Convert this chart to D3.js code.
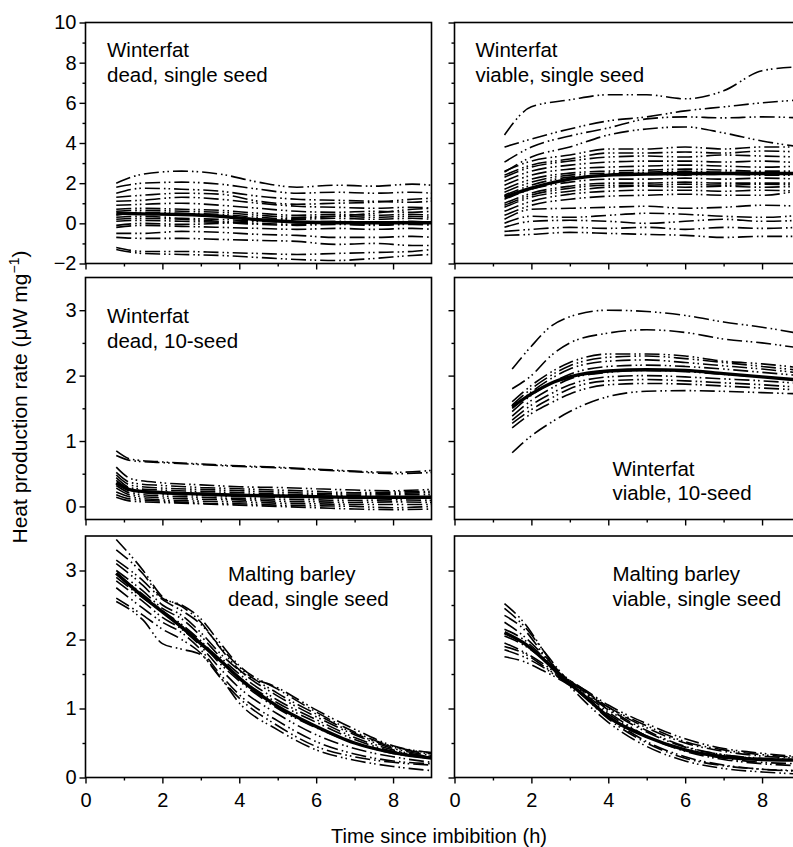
<!DOCTYPE html>
<html>
<head>
<meta charset="utf-8">
<script src="https://cdn.jsdelivr.net/npm/d3@7"></script>
<style>
  body { margin: 0; background: #fff; }
  svg { display: block; font-family: "Liberation Sans", Arial, sans-serif; }
</style>
</head>
<body>
<div id="chart"></div>
<script>
// Winterfat, dead, single seed
const deadSingleTimes = [0.8, 1.5, 2.5, 3.5, 4.5, 5.5, 6.5, 7.5, 8.5, 9.0];
const deadSingleSeeds = [
  [2.0, 2.45, 2.6, 2.45, 2.05, 1.8, 1.9, 1.85, 1.95, 1.9],
  [1.8, 2.0, 2.05, 1.95, 1.7, 1.5, 1.55, 1.5, 1.55, 1.5],
  [1.5, 1.75, 1.7, 1.6, 1.35, 1.2, 1.15, 1.1, 1.05, 1.1],
  [1.3, 1.4, 1.5, 1.45, 1.1, 0.95, 1.0, 1.05, 1.2, 1.25],
  [1.1, 1.15, 1.3, 1.2, 1.0, 0.85, 0.8, 0.75, 0.8, 0.75],
  [0.9, 0.95, 1.0, 0.9, 0.75, 0.6, 0.55, 0.6, 0.55, 0.6],
  [0.7, 0.75, 0.7, 0.65, 0.5, 0.4, 0.45, 0.4, 0.45, 0.4],
  [0.6, 0.65, 0.6, 0.55, 0.4, 0.3, 0.35, 0.3, 0.35, 0.3],
  [0.4, 0.55, 0.5, 0.45, 0.3, 0.2, 0.25, 0.2, 0.25, 0.2],
  [0.3, 0.35, 0.25, 0.2, 0.1, 0.05, 0.1, 0.05, 0.1, 0.05],
  [0.2, 0.25, 0.2, 0.1, 0.0, -0.05, 0.0, -0.05, 0.0, -0.05],
  [0.1, 0.15, 0.1, 0.05, -0.05, -0.1, -0.05, -0.1, -0.05, -0.1],
  [-0.1, 0.0, -0.05, 0.0, 0.15, 0.25, 0.35, 0.5, 0.7, 0.75],
  [-0.2, -0.1, -0.15, -0.2, -0.25, -0.3, -0.25, -0.3, -0.25, -0.3],
  [-0.5, -0.5, -0.4, -0.45, -0.55, -0.6, -0.7, -0.7, -0.65, -0.7],
  [-0.7, -0.75, -0.75, -0.8, -0.85, -0.9, -1.05, -1.0, -1.1, -1.1],
  [-1.2, -1.4, -1.4, -1.45, -1.5, -1.55, -1.5, -1.45, -1.4, -1.3],
  [-1.3, -1.5, -1.55, -1.6, -1.7, -1.8, -1.85, -1.75, -1.6, -1.55],
];
const deadSingleMean = [0.5, 0.47, 0.44, 0.35, 0.18, 0.07, 0.03, 0.03, 0.03, 0.03];

// Winterfat, viable, single seed
const viableSingleTimes = [1.3, 2.0, 3.0, 4.0, 5.0, 6.0, 7.0, 8.0, 9.0];
const viableSingleSeeds = [
  [4.4, 5.8, 6.15, 6.4, 6.4, 6.2, 6.6, 7.6, 7.8],
  [3.8, 4.2, 4.7, 5.1, 5.3, 5.6, 5.8, 6.0, 6.15],
  [3.05, 3.8, 4.35, 4.75, 5.2, 5.3, 5.25, 5.3, 5.25],
  [2.55, 3.3, 3.8, 4.4, 4.7, 4.8, 4.5, 4.1, 3.8],
  [2.6, 3.1, 3.4, 3.7, 3.7, 3.8, 3.7, 3.8, 3.8],
  [2.4, 2.9, 3.2, 3.5, 3.5, 3.55, 3.5, 3.6, 3.55],
  [2.3, 2.8, 3.1, 3.3, 3.35, 3.3, 3.4, 3.35, 3.3],
  [2.1, 2.6, 2.9, 3.05, 3.1, 3.1, 3.05, 3.1, 3.0],
  [1.9, 2.4, 2.7, 2.8, 2.85, 2.9, 2.85, 2.8, 2.85],
  [1.7, 2.2, 2.5, 2.6, 2.65, 2.7, 2.65, 2.6, 2.6],
  [1.55, 2.05, 2.4, 2.5, 2.55, 2.6, 2.55, 2.55, 2.5],
  [1.4, 1.9, 2.3, 2.4, 2.45, 2.4, 2.45, 2.4, 2.4],
  [1.2, 1.7, 2.05, 2.2, 2.2, 2.25, 2.2, 2.25, 2.2],
  [1.0, 1.5, 1.85, 2.0, 2.0, 2.05, 2.0, 2.0, 2.0],
  [0.9, 1.4, 1.75, 1.9, 1.9, 1.95, 1.9, 1.95, 1.9],
  [0.8, 1.3, 1.6, 1.8, 1.85, 1.8, 1.85, 1.8, 1.85],
  [0.6, 1.1, 1.45, 1.6, 1.65, 1.65, 1.6, 1.65, 1.6],
  [0.4, 0.9, 1.2, 1.35, 1.4, 1.45, 1.4, 1.4, 1.65],
  [0.2, 0.7, 0.75, 0.8, 0.85, 0.75, 0.8, 0.9, 0.85],
  [0.0, 0.35, 0.3, 0.4, 0.5, 0.45, 0.35, 0.3, 0.4],
  [-0.2, 0.1, 0.15, 0.1, 0.0, 0.1, 0.2, 0.1, 0.15],
  [-0.4, -0.3, -0.2, -0.25, -0.2, -0.3, -0.2, -0.25, -0.2],
  [-0.6, -0.55, -0.45, -0.5, -0.55, -0.6, -0.7, -0.65, -0.65],
];
const viableSingleMean = [1.3, 1.75, 2.2, 2.4, 2.45, 2.48, 2.48, 2.48, 2.48];

// Winterfat, dead, 10-seed
const deadTenTimes = [0.8, 1.2, 2, 3, 4, 5, 6, 7, 8, 9];
const deadTenSeeds = [
  [0.85, 0.72, 0.68, 0.65, 0.62, 0.6, 0.57, 0.54, 0.52, 0.55],
  [0.78, 0.7, 0.67, 0.64, 0.61, 0.59, 0.56, 0.53, 0.5, 0.52],
  [0.6, 0.42, 0.36, 0.33, 0.3, 0.29, 0.27, 0.25, 0.24, 0.26],
  [0.52, 0.36, 0.32, 0.29, 0.27, 0.25, 0.23, 0.21, 0.22, 0.23],
  [0.48, 0.32, 0.28, 0.26, 0.24, 0.22, 0.2, 0.19, 0.2, 0.21],
  [0.44, 0.28, 0.25, 0.23, 0.21, 0.19, 0.18, 0.17, 0.18, 0.18],
  [0.4, 0.26, 0.22, 0.2, 0.18, 0.17, 0.16, 0.15, 0.14, 0.15],
  [0.35, 0.23, 0.19, 0.17, 0.15, 0.14, 0.13, 0.12, 0.12, 0.12],
  [0.32, 0.2, 0.16, 0.14, 0.12, 0.11, 0.1, 0.09, 0.1, 0.09],
  [0.28, 0.17, 0.13, 0.11, 0.1, 0.08, 0.07, 0.06, 0.07, 0.06],
  [0.22, 0.14, 0.1, 0.08, 0.07, 0.05, 0.04, 0.03, 0.03, 0.03],
  [0.18, 0.11, 0.08, 0.05, 0.04, 0.02, 0.01, 0.0, -0.02, 0.0],
  [0.14, 0.08, 0.06, 0.04, 0.02, 0.0, -0.02, -0.04, -0.05, -0.04],
];
const deadTenMean = [0.36, 0.25, 0.21, 0.19, 0.17, 0.16, 0.15, 0.14, 0.14, 0.14];

// Winterfat, viable, 10-seed
const viableTenTimes = [1.5, 2.0, 2.5, 3.0, 4.0, 5.0, 6.0, 7.0, 8.0, 9.0];
const viableTenSeeds = [
  [2.1, 2.45, 2.75, 2.9, 3.0, 2.98, 2.92, 2.82, 2.74, 2.64],
  [1.8, 2.0, 2.3, 2.5, 2.65, 2.7, 2.66, 2.56, 2.5, 2.42],
  [1.6, 1.85, 2.05, 2.2, 2.33, 2.33, 2.3, 2.22, 2.18, 2.12],
  [1.55, 1.8, 2.0, 2.15, 2.28, 2.3, 2.26, 2.2, 2.14, 2.08],
  [1.5, 1.75, 1.95, 2.1, 2.22, 2.24, 2.2, 2.15, 2.1, 2.04],
  [1.45, 1.7, 1.88, 2.02, 2.14, 2.16, 2.14, 2.1, 2.05, 2.0],
  [1.38, 1.62, 1.8, 1.95, 2.05, 2.08, 2.06, 2.02, 1.98, 1.94],
  [1.32, 1.55, 1.72, 1.86, 1.98, 2.0, 1.98, 1.95, 1.92, 1.88],
  [1.27, 1.48, 1.65, 1.8, 1.92, 1.94, 1.92, 1.89, 1.86, 1.82],
  [1.2, 1.42, 1.58, 1.72, 1.86, 1.88, 1.87, 1.84, 1.81, 1.78],
  [0.82, 1.08, 1.28, 1.45, 1.68, 1.76, 1.77, 1.76, 1.74, 1.72],
];
const viableTenMean = [1.52, 1.72, 1.88, 1.98, 2.07, 2.09, 2.08, 2.03, 1.98, 1.93];

// Malting barley, dead, single seed
const barleyDeadTimes = [0.8, 1.5, 2, 2.5, 3, 3.5, 4, 5, 6, 7, 8, 9];
const barleyDeadSeeds = [
  [3.45, 3.0, 2.62, 2.48, 2.25, 1.88, 1.56, 1.3, 0.98, 0.7, 0.46, 0.36],
  [3.3, 2.95, 2.6, 2.5, 2.3, 1.95, 1.62, 1.28, 0.95, 0.66, 0.45, 0.35],
  [3.15, 2.85, 2.58, 2.42, 2.22, 1.9, 1.6, 1.22, 0.92, 0.64, 0.44, 0.34],
  [3.1, 2.78, 2.5, 2.35, 2.1, 1.8, 1.55, 1.18, 0.88, 0.62, 0.42, 0.32],
  [3.0, 2.7, 2.45, 2.3, 2.05, 1.75, 1.5, 1.12, 0.84, 0.58, 0.4, 0.3],
  [2.95, 2.65, 2.42, 2.22, 1.98, 1.7, 1.45, 1.08, 0.8, 0.55, 0.38, 0.3],
  [2.9, 2.6, 2.4, 2.2, 1.95, 1.65, 1.4, 1.0, 0.72, 0.5, 0.35, 0.28],
  [2.85, 2.55, 2.32, 2.15, 1.9, 1.58, 1.3, 0.92, 0.62, 0.42, 0.3, 0.22],
  [2.75, 2.45, 2.25, 2.1, 1.85, 1.5, 1.2, 0.82, 0.52, 0.34, 0.24, 0.2],
  [2.6, 2.35, 2.15, 2.0, 1.8, 1.45, 1.15, 0.75, 0.45, 0.3, 0.22, 0.18],
  [2.55, 2.28, 1.94, 1.86, 1.78, 1.46, 1.08, 0.69, 0.4, 0.25, 0.16, 0.1],
];
const barleyDeadMean = [2.96, 2.62, 2.4, 2.18, 1.94, 1.7, 1.44, 1.03, 0.74, 0.5, 0.36, 0.28];

// Malting barley, viable, single seed
const barleyViableTimes = [1.3, 1.8, 2.3, 2.8, 3.3, 4, 5, 6, 7, 8, 9];
const barleyViableSeeds = [
  [2.52, 2.25, 1.85, 1.45, 1.15, 0.8, 0.45, 0.24, 0.13, 0.08, 0.05],
  [2.45, 2.2, 1.85, 1.5, 1.22, 0.88, 0.52, 0.3, 0.18, 0.12, 0.09],
  [2.35, 2.15, 1.8, 1.48, 1.25, 0.95, 0.6, 0.38, 0.26, 0.2, 0.17],
  [2.25, 2.05, 1.78, 1.5, 1.28, 1.0, 0.68, 0.45, 0.33, 0.27, 0.25],
  [2.15, 2.0, 1.75, 1.48, 1.27, 0.98, 0.66, 0.44, 0.33, 0.28, 0.26],
  [2.05, 1.92, 1.72, 1.48, 1.3, 1.02, 0.72, 0.5, 0.38, 0.31, 0.28],
  [1.95, 1.82, 1.65, 1.45, 1.3, 1.05, 0.78, 0.56, 0.42, 0.35, 0.3],
  [1.9, 1.8, 1.62, 1.42, 1.2, 0.85, 0.5, 0.28, 0.17, 0.12, 0.1],
  [1.85, 1.75, 1.6, 1.42, 1.28, 1.02, 0.75, 0.52, 0.4, 0.33, 0.29],
  [1.75, 1.68, 1.55, 1.4, 1.22, 0.92, 0.6, 0.4, 0.28, 0.22, 0.2],
];
const barleyViableMean = [2.1, 1.95, 1.72, 1.45, 1.22, 0.88, 0.59, 0.4, 0.3, 0.26, 0.25];

const xTicksMajor = [0, 2, 4, 6, 8];
const xTicksMinor = [1, 3, 5, 7];

const width = 793;
const height = 847;

const svg = d3
  .select("#chart")
  .append("svg")
  .attr("width", width)
  .attr("height", height);

// column / row frames, in pixels
const cols = [
  { x0: 85.5, x1: 431.5 },
  { x0: 454.5, x1: 800.5 },
];
const rows = [
  { y0: 22.5, y1: 263.5, domain: [-2, 10], major: [-2, 0, 2, 4, 6, 8, 10], minor: [-1, 1, 3, 5, 7, 9] },
  { y0: 277.5, y1: 519.5, domain: [-0.2, 3.5], major: [0, 1, 2, 3], minor: [0.5, 1.5, 2.5] },
  { y0: 536, y1: 777.5, domain: [0, 3.5], major: [0, 1, 2, 3], minor: [0.5, 1.5, 2.5] },
];

const panels = [
  { row: 0, col: 0, times: deadSingleTimes, seeds: deadSingleSeeds, mean: deadSingleMean,
    label: ["Winterfat", "dead, single seed"], lx: 107, ly: 57 },
  { row: 0, col: 1, times: viableSingleTimes, seeds: viableSingleSeeds, mean: viableSingleMean,
    label: ["Winterfat", "viable, single seed"], lx: 475.5, ly: 57 },
  { row: 1, col: 0, times: deadTenTimes, seeds: deadTenSeeds, mean: deadTenMean,
    label: ["Winterfat", "dead, 10-seed"], lx: 107, ly: 323 },
  { row: 1, col: 1, times: viableTenTimes, seeds: viableTenSeeds, mean: viableTenMean,
    label: ["Winterfat", "viable, 10-seed"], lx: 612.5, ly: 475.5 },
  { row: 2, col: 0, times: barleyDeadTimes, seeds: barleyDeadSeeds, mean: barleyDeadMean,
    label: ["Malting barley", "dead, single seed"], lx: 228, ly: 581 },
  { row: 2, col: 1, times: barleyViableTimes, seeds: barleyViableSeeds, mean: barleyViableMean,
    label: ["Malting barley", "viable, single seed"], lx: 612.5, ly: 581 },
];

const fmt = (d) => (d < 0 ? "\u2212" + Math.abs(d) : String(d));

panels.forEach((p, i) => {
  const c = cols[p.col];
  const r = rows[p.row];
  const x = d3.scaleLinear().domain([0, 9]).range([c.x0, c.x1]);
  const y = d3.scaleLinear().domain(r.domain).range([r.y1, r.y0]);

  const clipId = "clip" + i;
  svg
    .append("clipPath")
    .attr("id", clipId)
    .append("rect")
    .attr("x", c.x0)
    .attr("y", r.y0)
    .attr("width", c.x1 - c.x0)
    .attr("height", r.y1 - r.y0);

  const line = d3
    .line()
    .x((d) => x(d[0]))
    .y((d) => y(d[1]))
    .curve(d3.curveMonotoneX);

  const g = svg.append("g").attr("clip-path", `url(#${clipId})`);

  // individual seeds: dash-dot-dot lines
  g.selectAll(".seed")
    .data(p.seeds)
    .enter()
    .append("path")
    .attr("class", "seed")
    .attr("d", (s) => line(s.map((v, k) => [p.times[k], v])))
    .attr("fill", "none")
    .attr("stroke", "#000")
    .attr("stroke-width", 1.6)
    .attr("stroke-dasharray", "15,4,1.6,3,1.6,4");

  // mean curve
  g.append("path")
    .attr("d", line(p.mean.map((v, k) => [p.times[k], v])))
    .attr("fill", "none")
    .attr("stroke", "#000")
    .attr("stroke-width", 3.4);

  // frame
  svg
    .append("rect")
    .attr("x", c.x0)
    .attr("y", r.y0)
    .attr("width", c.x1 - c.x0)
    .attr("height", r.y1 - r.y0)
    .attr("fill", "none")
    .attr("stroke", "#000")
    .attr("stroke-width", 1.6);

  // left axis
  const yAxis = svg
    .append("g")
    .attr("transform", `translate(${c.x0},0)`)
    .call(
      d3.axisLeft(y)
        .tickValues(r.major)
        .tickSize(6)
        .tickPadding(3)
        .tickFormat(p.col === 0 ? fmt : "")
    );
  yAxis.select(".domain").remove();
  yAxis.selectAll("line").attr("stroke-width", 1.4);
  yAxis.selectAll("text").style("font-size", "20px").attr("fill", "#000");
  svg
    .append("g")
    .attr("transform", `translate(${c.x0},0)`)
    .call(d3.axisLeft(y).tickValues(r.minor).tickSize(3).tickFormat(""))
    .call((a) => a.select(".domain").remove())
    .selectAll("line")
    .attr("stroke-width", 1.4);

  // bottom axis
  const xAxis = svg
    .append("g")
    .attr("transform", `translate(0,${r.y1})`)
    .call(
      d3.axisBottom(x)
        .tickValues(xTicksMajor)
        .tickSize(6)
        .tickPadding(9)
        .tickFormat(p.row === 2 ? fmt : "")
    );
  xAxis.select(".domain").remove();
  xAxis.selectAll("line").attr("stroke-width", 1.4);
  xAxis.selectAll("text").style("font-size", "20px").attr("fill", "#000");
  svg
    .append("g")
    .attr("transform", `translate(0,${r.y1})`)
    .call(d3.axisBottom(x).tickValues(xTicksMinor).tickSize(3).tickFormat(""))
    .call((a) => a.select(".domain").remove())
    .selectAll("line")
    .attr("stroke-width", 1.4);

  // panel label
  const t = svg
    .append("text")
    .attr("x", p.lx)
    .attr("y", p.ly)
    .style("font-size", "20.5px")
    .attr("fill", "#000");
  t.append("tspan").attr("x", p.lx).text(p.label[0]);
  t.append("tspan").attr("x", p.lx).attr("dy", 24.5).text(p.label[1]);
});

// axis titles
svg
  .append("text")
  .attr("x", 439)
  .attr("y", 843)
  .attr("text-anchor", "middle")
  .style("font-size", "20px")
  .text("Time since imbibition (h)");

const yTitle = svg
  .append("text")
  .attr("transform", "translate(26.5,397) rotate(-90)")
  .attr("text-anchor", "middle")
  .style("font-size", "21px");
yTitle.append("tspan").text("Heat production rate (\u03bcW mg");
yTitle.append("tspan").attr("dy", -8).style("font-size", "14px").text("\u22121");
yTitle.append("tspan").attr("dy", 8).text(")");
</script>
</body>
</html>
